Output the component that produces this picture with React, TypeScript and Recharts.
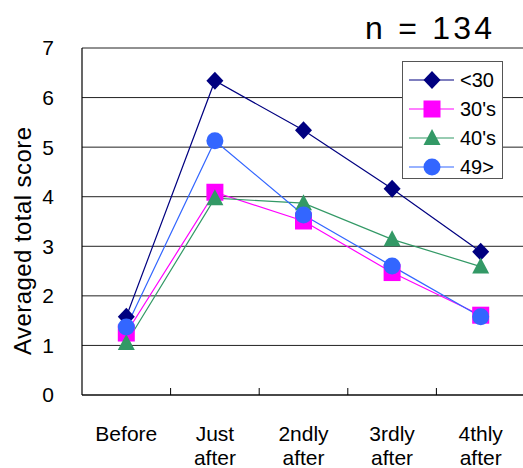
import React from "react";
import { LineChart, Line, XAxis, YAxis, CartesianGrid, Legend } from "recharts";

// Measurement timing and group means of the averaged total score
const timepoints = ["Before", "Just after", "2ndly after", "3rdly after", "4thly after"];
const under30 = [1.58, 6.34, 5.34, 4.16, 2.89];
const thirties = [1.25, 4.09, 3.51, 2.47, 1.61];
const forties = [1.05, 3.97, 3.87, 3.14, 2.59];
const over49 = [1.37, 5.13, 3.63, 2.6, 1.58];
const yTicks = [0, 1, 2, 3, 4, 5, 6, 7];
const xTicks = [0, 1, 2, 3, 4];
const betweenTicks = [0.5, 1.5, 2.5, 3.5];
const sampleSize = 134;

const FONT = "'Liberation Sans', Arial, sans-serif";
const NARROW = "'Liberation Sans Narrow', 'Liberation Sans', Arial, sans-serif";

type Shape = "diamond" | "square" | "triangle" | "circle";

const series: { key: string; name: string; values: number[]; color: string; shape: Shape }[] = [
  { key: "u30", name: "<30", values: under30, color: "#000080", shape: "diamond" },
  { key: "s30", name: "30's", values: thirties, color: "#FF00FF", shape: "square" },
  { key: "s40", name: "40's", values: forties, color: "#339966", shape: "triangle" },
  { key: "o49", name: "49>", values: over49, color: "#3366FF", shape: "circle" },
];

const data = timepoints.map((t, i) => {
  const row: Record<string, number | string> = { idx: i, label: t };
  series.forEach((s) => {
    row[s.key] = s.values[i];
  });
  return row;
});

function Marker({ cx, cy, shape, color }: { cx: number; cy: number; shape: Shape; color: string }) {
  if (shape === "diamond") {
    return (
      <polygon
        points={`${cx},${cy - 9} ${cx + 8.5},${cy} ${cx},${cy + 9} ${cx - 8.5},${cy}`}
        fill={color}
      />
    );
  }
  if (shape === "square") {
    return <rect x={cx - 8.5} y={cy - 8.5} width={17} height={17} fill={color} />;
  }
  if (shape === "triangle") {
    return (
      <polygon
        points={`${cx},${cy - 9} ${cx + 8.5},${cy + 7} ${cx - 8.5},${cy + 7}`}
        fill={color}
      />
    );
  }
  return <circle cx={cx} cy={cy} r={8.5} fill={color} />;
}

function XTick(props: any) {
  const { x, y, payload } = props;
  const label = timepoints[payload.value] ?? "";
  const sp = label.indexOf(" ");
  const first = sp < 0 ? label : label.slice(0, sp);
  const second = sp < 0 ? "" : label.slice(sp + 1);
  return (
    <text x={x} y={y} textAnchor="middle" fontSize={21} fill="#000" fontFamily={NARROW}>
      <tspan x={x} dy={46}>
        {first}
      </tspan>
      <tspan x={x} dy={24}>
        {second}
      </tspan>
    </text>
  );
}

// tick marks only, no labels
const NoLabel = () => <g />;

function LegendBox() {
  return (
    <div
      style={{
        width: 101,
        height: 118,
        boxSizing: "border-box",
        border: "1px solid #555",
        background: "#fff",
      }}
    >
      <svg width={99} height={116}>
        {series.map((s, i) => {
          const cy = 18 + i * 29;
          return (
            <g key={s.key}>
              <line x1={6} x2={51} y1={cy} y2={cy} stroke={s.color} strokeWidth={1.2} />
              <Marker cx={29} cy={cy} shape={s.shape} color={s.color} />
              <text
                x={57}
                y={cy}
                dominantBaseline="central"
                fontSize={20}
                fontFamily={FONT}
                fill="#000"
              >
                {s.name}
              </text>
            </g>
          );
        })}
      </svg>
    </div>
  );
}

export default function App() {
  return (
    <div
      style={{
        position: "absolute",
        left: 0,
        top: 0,
        width: 523,
        height: 468,
        overflow: "hidden",
        background: "#fff",
      }}
    >
      <LineChart
        width={530}
        height={468}
        data={data}
        margin={{ top: 48, right: 5, bottom: 0, left: 0 }}
      >
        <CartesianGrid vertical={false} stroke="#222" strokeWidth={1} />
        <XAxis
          xAxisId="main"
          type="number"
          dataKey="idx"
          domain={[-0.5, 4.5]}
          ticks={xTicks}
          interval={0}
          allowDataOverflow
          height={73}
          tickLine={false}
          tickSize={0}
          tickMargin={0}
          axisLine={{ stroke: "#000", strokeWidth: 1.2 }}
          tick={<XTick />}
        />
        <XAxis
          xAxisId="marks"
          type="number"
          dataKey="idx"
          domain={[-0.5, 4.5]}
          ticks={betweenTicks}
          interval={0}
          allowDataOverflow
          mirror
          height={2}
          axisLine={false}
          tick={<NoLabel />}
          tickSize={7}
          tickLine={{ stroke: "#000", strokeWidth: 1 }}
        />
        <YAxis
          domain={[0, 7]}
          ticks={yTicks}
          interval={0}
          width={82}
          tickLine={false}
          tickSize={0}
          tickMargin={28}
          axisLine={{ stroke: "#000", strokeWidth: 1.2 }}
          tick={{ fontSize: 21, fill: "#000", fontFamily: FONT }}
        />
        <Legend
          layout="vertical"
          align="center"
          verticalAlign="middle"
          wrapperStyle={{ top: 61, left: 402, width: 101, height: 118 }}
          content={() => <LegendBox />}
        />
        {series.map((s) => (
          <Line
            key={s.key}
            xAxisId="main"
            dataKey={s.key}
            name={s.name}
            type="linear"
            stroke={s.color}
            strokeWidth={1.2}
            isAnimationActive={false}
            activeDot={false}
            dot={(p: any) => (
              <Marker key={`${s.key}-${p.index}`} cx={p.cx} cy={p.cy} shape={s.shape} color={s.color} />
            )}
          />
        ))}
      </LineChart>
      <svg
        width={523}
        height={468}
        style={{ position: "absolute", left: 0, top: 0, pointerEvents: "none" }}
      >
        <text
          x={0}
          y={0}
          transform="translate(31 241) rotate(-90)"
          textAnchor="middle"
          fontSize={24}
          fontFamily={FONT}
          fill="#000"
          textLength={228}
          lengthAdjust="spacing"
        >
          Averaged total score
        </text>
        <text
          x={365}
          y={39}
          fontSize={32}
          fontFamily={FONT}
          fill="#000"
          textLength={127}
          lengthAdjust="spacing"
        >
          {`n = ${sampleSize}`}
        </text>
      </svg>
    </div>
  );
}
